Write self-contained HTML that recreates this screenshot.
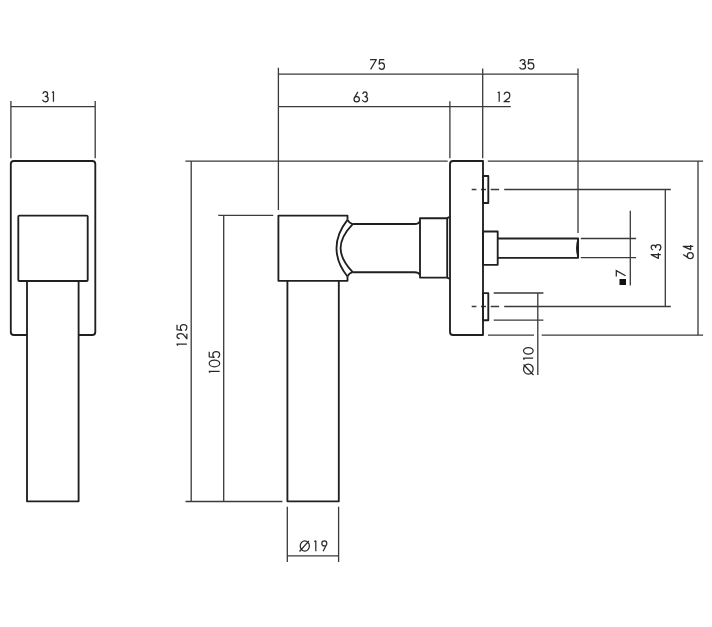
<!DOCTYPE html>
<html><head><meta charset="utf-8">
<style>
html,body{margin:0;padding:0;background:#fff;width:712px;height:627px;overflow:hidden}
svg{display:block}
text{font-family:"Liberation Sans",sans-serif;font-size:16px;fill:#2a2a2a}
.d{stroke:#3a3a3a;stroke-width:1.3;fill:none}
.t{stroke:#2a2a2a;stroke-width:1.25;fill:none;stroke-linecap:butt;stroke-linejoin:round}
.o{stroke:#202020;stroke-width:1.85;fill:none;stroke-linejoin:round}
</style></head><body>
<svg width="712" height="627" viewBox="0 0 712 627">
<!-- LEFT VIEW dims -->
<g class="d">
<path d="M10.9 100.9V158.2M95.2 100.9V158.2M10.9 106.7H95.2"/>
</g>
<!-- LEFT VIEW outline -->
<g class="o">
<path d="M27 335H13.8Q10.8 335 10.8 332V164Q10.8 161 13.8 161H92.3Q95.3 161 95.3 164V332Q95.3 335 92.3 335H78.6"/>
<rect x="18.3" y="215.6" width="69.4" height="65.4" rx="1"/>
<path d="M27 281V501.3H78.6V281"/>
</g>

<!-- MIDDLE VIEW dims -->
<g class="d">
<path d="M278.4 67.7V210M278.4 74.1H578M482.7 68.4V158.3M578 68.4V233M278.4 106.6H510.8M449.9 101.2V158.3"/>
<path d="M185.4 161.1H447.7M191.2 161.1V501.5M185.5 501.5H282.4"/>
<path d="M218.2 215.3H273.2M223.7 215.3V501.5"/>
<path d="M287.3 506.7V562M338.6 506.7V562M287.3 555.9H338.6"/>
<path d="M487.8 161.05H703.1M488 335.2H534M541.7 335.2H703.1M698 161.05V335.2"/>
<path d="M504.2 189.5H670.8M504.2 306.5H670.8M665.3 189.5V306.5"/>
<path d="M471.7 189.5H476.4M481 189.5H486M490.7 189.5H499.1"/>
<path d="M471.7 306.5H476.4M481 306.5H486M490.7 306.5H499.1"/>
<path d="M580.8 238.5H636.1M580.8 257.7H636.1M630.3 210.8V285.5"/>
<path d="M493.7 293H543.4M493.7 320.2H543.4M537.8 292.8V375"/>
</g>
<path d="M616.3 276.6V270.6L625.6 275.8" stroke="#2a2a2a" stroke-width="1.3" fill="none"/>

<g class="t">
<path d="M42.77 93.76C43.35 92.34 44.27 91.73 45.30 91.73C46.68 91.73 47.60 92.95 47.60 94.16C47.60 95.58 46.68 96.39 45.30 96.39C47.14 96.39 48.17 97.61 48.17 99.03C48.17 100.65 47.02 101.87 45.30 101.87C44.15 101.87 43.00 101.16 42.43 99.84M51.95 92.48L53.45 91.73L53.45 101.87"/>
<path d="M370.03 59.53L376.37 59.53L370.66 69.37M384.30 59.53L379.71 59.53L379.10 64.15C379.82 63.27 380.70 62.88 381.70 62.88C383.36 62.88 384.47 64.45 384.47 66.12C384.47 68.09 383.25 69.37 381.70 69.37C380.48 69.37 379.48 68.58 378.93 67.60"/>
<path d="M519.89 61.46C520.50 60.11 521.46 59.53 522.55 59.53C524.00 59.53 524.97 60.69 524.97 61.84C524.97 63.19 524.00 63.96 522.55 63.96C524.48 63.96 525.57 65.12 525.57 66.47C525.57 68.01 524.36 69.17 522.55 69.17C521.34 69.17 520.13 68.50 519.53 67.24M533.69 59.53L528.76 59.53L528.11 64.06C528.88 63.19 529.83 62.81 530.90 62.81C532.68 62.81 533.87 64.35 533.87 65.99C533.87 67.92 532.56 69.17 530.90 69.17C529.59 69.17 528.52 68.40 527.93 67.43"/>
<path d="M356.70 96.53C358.17 96.53 359.37 97.73 359.37 99.20C359.37 100.67 358.17 101.87 356.70 101.87C355.23 101.87 354.03 100.67 354.03 99.20C354.03 97.73 355.23 96.53 356.70 96.53ZM354.28 98.07L357.87 91.93M362.64 93.92C363.17 92.53 364.01 91.93 364.95 91.93C366.21 91.93 367.05 93.12 367.05 94.32C367.05 95.71 366.21 96.50 364.95 96.50C366.63 96.50 367.57 97.70 367.57 99.09C367.57 100.68 366.52 101.87 364.95 101.87C363.90 101.87 362.85 101.17 362.33 99.88"/>
<path d="M497.70 92.78L499.20 92.03L499.20 101.67M504.14 94.63C504.49 92.90 505.64 92.03 506.90 92.03C508.62 92.03 509.77 93.67 509.77 95.50C509.77 96.56 509.43 97.33 508.97 98.10L504.03 101.67L509.77 101.67"/>
<path d="M304.80 540.93C307.32 540.93 309.37 543.22 309.37 546.05C309.37 548.88 307.32 551.17 304.80 551.17C302.28 551.17 300.23 548.88 300.23 546.05C300.23 543.22 302.28 540.93 304.80 540.93ZM299.50 551.48L308.91 540.93M314.30 541.68L315.80 540.93L315.80 551.17M324.30 540.93C325.66 540.93 326.77 542.04 326.77 543.40C326.77 544.76 325.66 545.87 324.30 545.87C322.94 545.87 321.83 544.76 321.83 543.40C321.83 542.04 322.94 540.93 324.30 540.93ZM326.54 544.44L323.11 551.17"/>
<path d="M177.78 345.60L177.03 344.10L186.87 344.10M179.69 338.67C177.92 338.36 177.03 337.33 177.03 336.20C177.03 334.66 178.70 333.63 180.57 333.63C181.65 333.63 182.44 333.94 183.23 334.35L186.87 338.77L186.87 333.63M177.03 324.71L177.03 329.64L181.65 330.29C180.77 329.52 180.38 328.57 180.38 327.50C180.38 325.72 181.95 324.53 183.62 324.53C185.59 324.53 186.87 325.84 186.87 327.50C186.87 328.81 186.08 329.88 185.10 330.47"/>
<path d="M209.98 372.80L209.23 371.30L219.67 371.30M209.23 363.45C209.23 361.62 211.57 360.13 214.45 360.13C217.33 360.13 219.67 361.62 219.67 363.45C219.67 365.28 217.33 366.77 214.45 366.77C211.57 366.77 209.23 365.28 209.23 363.45ZM209.23 351.71L209.23 356.81L214.14 357.49C213.20 356.69 212.78 355.71 212.78 354.60C212.78 352.76 214.45 351.53 216.22 351.53C218.31 351.53 219.67 352.88 219.67 354.60C219.67 355.95 218.83 357.06 217.79 357.67"/>
<path d="M660.87 254.59L651.13 254.59L658.34 258.47L658.34 252.93M653.08 250.03C651.71 249.45 651.13 248.53 651.13 247.50C651.13 246.12 652.30 245.20 653.47 245.20C654.83 245.20 655.61 246.12 655.61 247.50C655.61 245.66 656.78 244.63 658.14 244.63C659.70 244.63 660.87 245.78 660.87 247.50C660.87 248.65 660.19 249.80 658.92 250.37"/>
<path d="M687.33 255.70C687.33 254.06 688.66 252.73 690.30 252.73C691.94 252.73 693.27 254.06 693.27 255.70C693.27 257.34 691.94 258.67 690.30 258.67C688.66 258.67 687.33 257.34 687.33 255.70ZM689.04 258.39L683.23 254.39M693.27 246.42L683.23 246.42L690.66 249.67L690.66 245.03"/>
<path d="M523.53 369.10C523.53 366.30 525.69 364.03 528.35 364.03C531.01 364.03 533.17 366.30 533.17 369.10C533.17 371.90 531.01 374.17 528.35 374.17C525.69 374.17 523.53 371.90 523.53 369.10ZM533.46 374.98L523.53 364.54M524.28 359.70L523.53 358.20L533.17 358.20M523.53 350.80C523.53 348.99 525.69 347.53 528.35 347.53C531.01 347.53 533.17 348.99 533.17 350.80C533.17 352.61 531.01 354.07 528.35 354.07C525.69 354.07 523.53 352.61 523.53 350.80Z"/>
</g>

<!-- MIDDLE VIEW outline -->
<g class="o">
<path d="M347.5 219.8V215.6H278.4V280.8H347.5V276.5"/>
<path d="M347.5 219.8C342.5 226 336.5 236 336.5 248.15S342.5 270.3 347.5 276.5"/>
<path d="M352.7 224.1C347.5 229.5 340.6 238 340.6 248.1S347.5 266.7 352.7 272.1"/>
<path d="M347.5 219.8Q349 223 352.7 224.1M347.5 276.5Q349 273 352.7 272.1"/>
<path d="M352.7 224H414.5Q419 224 420 221M352.7 272.2H414.5Q419 272.2 420 275.2"/>
<path d="M420 218.2H447.2V277.6H420ZM447.2 218.2L450 216.8M447.2 277.6L450 279"/>
<path d="M483 161H453Q450 161 450 164V332Q450 335 453 335H483Z"/>
<rect x="483" y="176" width="5.3" height="27"/>
<rect x="483" y="293.1" width="5.3" height="27.1"/>
<rect x="483" y="231.5" width="14.7" height="33.3"/>
<path d="M497.7 238.5H578.1V257.8H497.7"/>
<path d="M578.1 238.8Q575.2 248.1 578.1 257.5Z" fill="#1e1e1e" stroke-width="1.2"/>
<path d="M287.4 280.8V501.3H338.8V280.8"/>
</g>
<rect x="619.5" y="279" width="6.5" height="6" fill="#111"/>
</svg>
</body></html>
